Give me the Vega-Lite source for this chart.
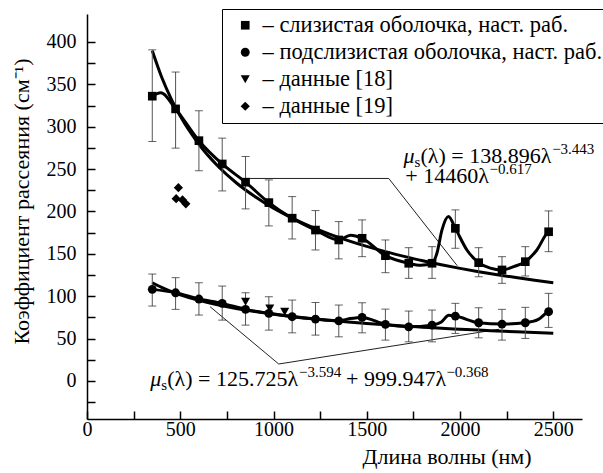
{
  "$schema": "https://vega.github.io/schema/vega-lite/v6.json",
  "width": 495,
  "height": 405,
  "autosize": {"type": "none"},
  "padding": {"left": 87, "top": 14, "right": 21, "bottom": 54},
  "background": "white",
  "config": {
    "font": "Liberation Serif",
    "view": {"stroke": null},
    "axis": {
      "grid": false,
      "domainColor": "black",
      "domainWidth": 1.5,
      "tickColor": "black",
      "tickWidth": 1.5,
      "labelColor": "black",
      "titleColor": "black",
      "labelFont": "Liberation Serif",
      "titleFont": "Liberation Serif",
      "labelFontSize": 20,
      "titleFontSize": 22,
      "titleFontWeight": "normal",
      "labelFlush": false,
      "labelOverlap": false
    },
    "legend": {
      "labelFont": "Liberation Serif",
      "labelFontSize": 22.5,
      "labelColor": "black",
      "labelLimit": 0
    },
    "text": {"font": "Liberation Serif"}
  },
  "datasets": {
    "pts": [
      {"series": "– слизистая оболочка, наст. раб.", "wl": 350, "mu": 336, "lo": 282.5, "hi": 390.7},
      {"series": "– слизистая оболочка, наст. раб.", "wl": 475, "mu": 321, "lo": 274.7, "hi": 364.5},
      {"series": "– слизистая оболочка, наст. раб.", "wl": 600, "mu": 283.5, "lo": 248, "hi": 318.8},
      {"series": "– слизистая оболочка, наст. раб.", "wl": 725, "mu": 256, "lo": 224.2, "hi": 286.5},
      {"series": "– слизистая оболочка, наст. раб.", "wl": 850, "mu": 234.5, "lo": 203, "hi": 264.8},
      {"series": "– слизистая оболочка, наст. раб.", "wl": 975, "mu": 210.4, "lo": 182.9, "hi": 237.2},
      {"series": "– слизистая оболочка, наст. раб.", "wl": 1100, "mu": 192, "lo": 167.5, "hi": 217.5},
      {"series": "– слизистая оболочка, наст. раб.", "wl": 1225, "mu": 178, "lo": 154.5, "hi": 201},
      {"series": "– слизистая оболочка, наст. раб.", "wl": 1350, "mu": 166.3, "lo": 144, "hi": 188},
      {"series": "– слизистая оболочка, наст. раб.", "wl": 1475, "mu": 168.3, "lo": 146.6, "hi": 190},
      {"series": "– слизистая оболочка, наст. раб.", "wl": 1600, "mu": 147.8, "lo": 127.7, "hi": 166.3},
      {"series": "– слизистая оболочка, наст. раб.", "wl": 1725, "mu": 138.8, "lo": 121, "hi": 157.2},
      {"series": "– слизистая оболочка, наст. раб.", "wl": 1850, "mu": 138.8, "lo": 121, "hi": 158.4},
      {"series": "– слизистая оболочка, наст. раб.", "wl": 1975, "mu": 180, "lo": 156.5, "hi": 201.8},
      {"series": "– слизистая оболочка, наст. раб.", "wl": 2100, "mu": 139.5, "lo": 122.9, "hi": 157.2},
      {"series": "– слизистая оболочка, наст. раб.", "wl": 2225, "mu": 130.9, "lo": 115.1, "hi": 146.6},
      {"series": "– слизистая оболочка, наст. раб.", "wl": 2350, "mu": 140.7, "lo": 123.8, "hi": 158.4},
      {"series": "– слизистая оболочка, наст. раб.", "wl": 2475, "mu": 176, "lo": 152.5, "hi": 200.6},
      {"series": "– подслизистая оболочка, наст. раб.", "wl": 350, "mu": 108, "lo": 88.3, "hi": 126.1},
      {"series": "– подслизистая оболочка, наст. раб.", "wl": 475, "mu": 104, "lo": 84.4, "hi": 121.8},
      {"series": "– подслизистая оболочка, наст. раб.", "wl": 600, "mu": 96.6, "lo": 77.7, "hi": 115.8},
      {"series": "– подслизистая оболочка, наст. раб.", "wl": 725, "mu": 91.5, "lo": 71.7, "hi": 111.9},
      {"series": "– подслизистая оболочка, наст. раб.", "wl": 850, "mu": 84.4, "lo": 65.8, "hi": 104},
      {"series": "– подслизистая оболочка, наст. раб.", "wl": 975, "mu": 79.7, "lo": 59.9, "hi": 99.3},
      {"series": "– подслизистая оболочка, наст. раб.", "wl": 1100, "mu": 75.7, "lo": 56.7, "hi": 95.4},
      {"series": "– подслизистая оболочка, наст. раб.", "wl": 1225, "mu": 72.9, "lo": 54, "hi": 92.5},
      {"series": "– подслизистая оболочка, наст. раб.", "wl": 1350, "mu": 70.9, "lo": 52, "hi": 89.5},
      {"series": "– подслизистая оболочка, наст. раб.", "wl": 1475, "mu": 74.9, "lo": 56.7, "hi": 92.2},
      {"series": "– подслизистая оболочка, наст. раб.", "wl": 1600, "mu": 66.7, "lo": 48.1, "hi": 84.7},
      {"series": "– подслизистая оболочка, наст. раб.", "wl": 1725, "mu": 63.8, "lo": 46.1, "hi": 82.4},
      {"series": "– подслизистая оболочка, наст. раб.", "wl": 1850, "mu": 65.8, "lo": 46.1, "hi": 83.6},
      {"series": "– подслизистая оболочка, наст. раб.", "wl": 1975, "mu": 76.5, "lo": 56, "hi": 91.5},
      {"series": "– подслизистая оболочка, наст. раб.", "wl": 2100, "mu": 68.6, "lo": 50.8, "hi": 86.3},
      {"series": "– подслизистая оболочка, наст. раб.", "wl": 2225, "mu": 67, "lo": 48.1, "hi": 84.4},
      {"series": "– подслизистая оболочка, наст. раб.", "wl": 2350, "mu": 68.6, "lo": 50.1, "hi": 86.8},
      {"series": "– подслизистая оболочка, наст. раб.", "wl": 2475, "mu": 81.6, "lo": 63.1, "hi": 103.3},
      {"series": "– данные [18]", "wl": 850, "mu": 93.4},
      {"series": "– данные [18]", "wl": 980, "mu": 85.6},
      {"series": "– данные [18]", "wl": 1060, "mu": 81.6},
      {"series": "– данные [19]", "wl": 490, "mu": 228},
      {"series": "– данные [19]", "wl": 478, "mu": 215},
      {"series": "– данные [19]", "wl": 512, "mu": 213.5},
      {"series": "– данные [19]", "wl": 530, "mu": 209}
    ],
    "meas": [
      {"curve": "m", "wl": 350, "mu": 336}, {"curve": "m", "wl": 395, "mu": 340}, {"curve": "m", "wl": 475, "mu": 321},
      {"curve": "m", "wl": 600, "mu": 283.5}, {"curve": "m", "wl": 725, "mu": 256}, {"curve": "m", "wl": 850, "mu": 234.5},
      {"curve": "m", "wl": 975, "mu": 210.4}, {"curve": "m", "wl": 1100, "mu": 192}, {"curve": "m", "wl": 1225, "mu": 178},
      {"curve": "m", "wl": 1350, "mu": 166.3}, {"curve": "m", "wl": 1413, "mu": 172}, {"curve": "m", "wl": 1475, "mu": 168.3},
      {"curve": "m", "wl": 1600, "mu": 147.8}, {"curve": "m", "wl": 1725, "mu": 138.8}, {"curve": "m", "wl": 1790, "mu": 136.5},
      {"curve": "m", "wl": 1850, "mu": 138.8}, {"curve": "m", "wl": 1876, "mu": 150.6}, {"curve": "m", "wl": 1903, "mu": 178},
      {"curve": "m", "wl": 1938, "mu": 194}, {"curve": "m", "wl": 1975, "mu": 180}, {"curve": "m", "wl": 2037, "mu": 154.5},
      {"curve": "m", "wl": 2100, "mu": 139.5}, {"curve": "m", "wl": 2162, "mu": 133}, {"curve": "m", "wl": 2225, "mu": 130.9},
      {"curve": "m", "wl": 2287, "mu": 134.8}, {"curve": "m", "wl": 2350, "mu": 140.7}, {"curve": "m", "wl": 2412, "mu": 154.5},
      {"curve": "m", "wl": 2475, "mu": 176}, {"curve": "m", "wl": 2490, "mu": 177},
      {"curve": "s", "wl": 350, "mu": 108}, {"curve": "s", "wl": 475, "mu": 104}, {"curve": "s", "wl": 600, "mu": 96.6},
      {"curve": "s", "wl": 725, "mu": 91.5}, {"curve": "s", "wl": 850, "mu": 84.4}, {"curve": "s", "wl": 975, "mu": 79.7},
      {"curve": "s", "wl": 1100, "mu": 75.7}, {"curve": "s", "wl": 1225, "mu": 72.9}, {"curve": "s", "wl": 1350, "mu": 70.9},
      {"curve": "s", "wl": 1410, "mu": 73.5}, {"curve": "s", "wl": 1475, "mu": 74.9}, {"curve": "s", "wl": 1600, "mu": 66.7},
      {"curve": "s", "wl": 1725, "mu": 63.8}, {"curve": "s", "wl": 1850, "mu": 65.8}, {"curve": "s", "wl": 1900, "mu": 69.5},
      {"curve": "s", "wl": 1940, "mu": 77.5}, {"curve": "s", "wl": 1975, "mu": 76.5}, {"curve": "s", "wl": 2100, "mu": 68.6},
      {"curve": "s", "wl": 2225, "mu": 67}, {"curve": "s", "wl": 2350, "mu": 68.6}, {"curve": "s", "wl": 2420, "mu": 72.5},
      {"curve": "s", "wl": 2475, "mu": 81.6}, {"curve": "s", "wl": 2490, "mu": 82}
    ],
    "fit": [
      {"curve": "m", "wl": 350, "mu": 389.5}, {"curve": "m", "wl": 400, "mu": 358.6}, {"curve": "m", "wl": 450, "mu": 333.5},
      {"curve": "m", "wl": 500, "mu": 312.5}, {"curve": "m", "wl": 600, "mu": 279.3}, {"curve": "m", "wl": 700, "mu": 253.9},
      {"curve": "m", "wl": 800, "mu": 233.8}, {"curve": "m", "wl": 900, "mu": 217.5}, {"curve": "m", "wl": 1000, "mu": 203.7},
      {"curve": "m", "wl": 1100, "mu": 192.1}, {"curve": "m", "wl": 1200, "mu": 182.1}, {"curve": "m", "wl": 1300, "mu": 173.3},
      {"curve": "m", "wl": 1400, "mu": 165.6}, {"curve": "m", "wl": 1500, "mu": 158.7}, {"curve": "m", "wl": 1600, "mu": 152.5},
      {"curve": "m", "wl": 1700, "mu": 146.9}, {"curve": "m", "wl": 1800, "mu": 141.7}, {"curve": "m", "wl": 1900, "mu": 137.1},
      {"curve": "m", "wl": 2000, "mu": 132.8}, {"curve": "m", "wl": 2100, "mu": 128.9}, {"curve": "m", "wl": 2200, "mu": 125.3},
      {"curve": "m", "wl": 2300, "mu": 121.9}, {"curve": "m", "wl": 2400, "mu": 118.7}, {"curve": "m", "wl": 2500, "mu": 115.7},
      {"curve": "s", "wl": 350, "mu": 115.8}, {"curve": "s", "wl": 400, "mu": 110.3}, {"curve": "s", "wl": 450, "mu": 105.6},
      {"curve": "s", "wl": 500, "mu": 101.6}, {"curve": "s", "wl": 600, "mu": 95}, {"curve": "s", "wl": 700, "mu": 89.7},
      {"curve": "s", "wl": 800, "mu": 85.4}, {"curve": "s", "wl": 900, "mu": 81.8}, {"curve": "s", "wl": 1000, "mu": 78.7},
      {"curve": "s", "wl": 1100, "mu": 76}, {"curve": "s", "wl": 1200, "mu": 73.6}, {"curve": "s", "wl": 1300, "mu": 71.5},
      {"curve": "s", "wl": 1400, "mu": 69.5}, {"curve": "s", "wl": 1500, "mu": 67.8}, {"curve": "s", "wl": 1600, "mu": 66.2},
      {"curve": "s", "wl": 1700, "mu": 64.7}, {"curve": "s", "wl": 1800, "mu": 63.4}, {"curve": "s", "wl": 1900, "mu": 62.1},
      {"curve": "s", "wl": 2000, "mu": 61}, {"curve": "s", "wl": 2100, "mu": 59.9}, {"curve": "s", "wl": 2200, "mu": 58.9},
      {"curve": "s", "wl": 2300, "mu": 57.9}, {"curve": "s", "wl": 2400, "mu": 57}, {"curve": "s", "wl": 2500, "mu": 56.2}
    ],
    "lead": [
      {"leader": "a", "wl": 852, "mu": 238.9}, {"leader": "a", "wl": 1618, "mu": 238.9}, {"leader": "a", "wl": 1985, "mu": 135.9},
      {"leader": "b", "wl": 660, "mu": 87.5}, {"leader": "b", "wl": 1028, "mu": 19.9}, {"leader": "b", "wl": 2210, "mu": 61}
    ],
    "eq": [
      {"role": "mu", "wl": 1697, "mu": 257.5, "text": "μ"},
      {"role": "sub", "wl": 1756, "mu": 257.5, "text": "s"},
      {"role": "main", "wl": 1788, "mu": 257.5, "text": "(λ) = 138.896λ"},
      {"role": "sup", "wl": 2494, "mu": 257.5, "text": "−3.443"},
      {"role": "main", "wl": 1707, "mu": 233, "text": "+ 14460λ"},
      {"role": "sup", "wl": 2158, "mu": 233, "text": "−0.617"},
      {"role": "mu", "wl": 339, "mu": -6, "text": "μ"},
      {"role": "sub", "wl": 398, "mu": -6, "text": "s"},
      {"role": "main", "wl": 430, "mu": -6, "text": "(λ) = 125.725λ"},
      {"role": "sup", "wl": 1137, "mu": -6, "text": "−3.594"},
      {"role": "main", "wl": 1389, "mu": -6, "text": "+ 999.947λ"},
      {"role": "sup", "wl": 1927, "mu": -6, "text": "−0.368"}
    ]
  },
  "encoding": {
    "x": {
      "field": "wl", "type": "quantitative",
      "scale": {"domain": [0, 2654], "nice": false, "zero": false},
      "axis": {
        "title": "Длина волны (нм)",
        "values": [0, 250, 500, 750, 1000, 1250, 1500, 1750, 2000, 2250, 2500],
        "format": "d",
        "labelExpr": "datum.value % 500 === 0 ? datum.label : ''",
        "tickSize": -8,
        "labelPadding": 8,
        "titleX": 359.5,
        "titleY": 44,
        "titleAlign": "center",
        "titleBaseline": "alphabetic"
      }
    },
    "y": {
      "field": "mu", "type": "quantitative",
      "scale": {"domain": [-45, 433], "nice": false, "zero": false},
      "axis": {
        "title": "Коэффициент рассеяния (см⁻¹)",
        "values": [-25, 0, 25, 50, 75, 100, 125, 150, 175, 200, 225, 250, 275, 300, 325, 350, 375, 400],
        "format": "d",
        "labelExpr": "datum.value >= 0 && datum.value % 50 === 0 ? datum.label : ''",
        "tickSize": -8,
        "labelPadding": 19,
        "titleAngle": -90,
        "titleX": -59,
        "titleY": 187,
        "titleAlign": "center",
        "titleBaseline": "alphabetic"
      }
    }
  },
  "layer": [
    {
      "data": {"name": "lead"},
      "mark": {"type": "line", "color": "#222", "strokeWidth": 1},
      "encoding": {"detail": {"field": "leader"}}
    },
    {
      "data": {"name": "fit"},
      "mark": {"type": "line", "color": "black", "strokeWidth": 3, "interpolate": "monotone"},
      "encoding": {"detail": {"field": "curve"}}
    },
    {
      "data": {"name": "meas"},
      "mark": {"type": "line", "color": "black", "strokeWidth": 3, "interpolate": "monotone"},
      "encoding": {"detail": {"field": "curve"}}
    },
    {
      "data": {"name": "pts"},
      "transform": [{"filter": "isValid(datum.lo)"}],
      "mark": {"type": "rule", "color": "#555", "strokeWidth": 1},
      "encoding": {
        "y": {
          "field": "lo", "type": "quantitative",
          "scale": {"domain": [-45, 433], "nice": false, "zero": false},
          "axis": {
            "title": "Коэффициент рассеяния (см⁻¹)",
            "values": [-25, 0, 25, 50, 75, 100, 125, 150, 175, 200, 225, 250, 275, 300, 325, 350, 375, 400],
            "format": "d",
            "labelExpr": "datum.value >= 0 && datum.value % 50 === 0 ? datum.label : ''",
            "tickSize": -8,
            "labelPadding": 19,
            "titleAngle": -90,
            "titleX": -59,
            "titleY": 187,
            "titleAlign": "center",
            "titleBaseline": "alphabetic"
          }
        },
        "y2": {"field": "hi"}
      }
    },
    {
      "data": {"name": "pts"},
      "transform": [{"filter": "isValid(datum.lo)"}],
      "mark": {"type": "tick", "orient": "horizontal", "color": "#222", "size": 8, "thickness": 1},
      "encoding": {
        "y": {
          "field": "lo", "type": "quantitative",
          "scale": {"domain": [-45, 433], "nice": false, "zero": false},
          "axis": {
            "title": "Коэффициент рассеяния (см⁻¹)",
            "values": [-25, 0, 25, 50, 75, 100, 125, 150, 175, 200, 225, 250, 275, 300, 325, 350, 375, 400],
            "format": "d",
            "labelExpr": "datum.value >= 0 && datum.value % 50 === 0 ? datum.label : ''",
            "tickSize": -8,
            "labelPadding": 19,
            "titleAngle": -90,
            "titleX": -59,
            "titleY": 187,
            "titleAlign": "center",
            "titleBaseline": "alphabetic"
          }
        }
      }
    },
    {
      "data": {"name": "pts"},
      "transform": [{"filter": "isValid(datum.hi)"}],
      "mark": {"type": "tick", "orient": "horizontal", "color": "#222", "size": 8, "thickness": 1},
      "encoding": {
        "y": {
          "field": "hi", "type": "quantitative",
          "scale": {"domain": [-45, 433], "nice": false, "zero": false},
          "axis": {
            "title": "Коэффициент рассеяния (см⁻¹)",
            "values": [-25, 0, 25, 50, 75, 100, 125, 150, 175, 200, 225, 250, 275, 300, 325, 350, 375, 400],
            "format": "d",
            "labelExpr": "datum.value >= 0 && datum.value % 50 === 0 ? datum.label : ''",
            "tickSize": -8,
            "labelPadding": 19,
            "titleAngle": -90,
            "titleX": -59,
            "titleY": 187,
            "titleAlign": "center",
            "titleBaseline": "alphabetic"
          }
        }
      }
    },
    {
      "data": {"name": "pts"},
      "mark": {"type": "point", "filled": true, "color": "black", "opacity": 1},
      "encoding": {
        "shape": {
          "field": "series", "type": "nominal",
          "scale": {
            "domain": ["– слизистая оболочка, наст. раб.", "– подслизистая оболочка, наст. раб.", "– данные [18]", "– данные [19]"],
            "range": ["square", "circle", "triangle-down", "diamond"]
          },
          "legend": {
            "title": null,
            "orient": "none",
            "legendX": 135,
            "legendY": -5,
            "strokeColor": "black",
            "fillColor": "white",
            "padding": 5,
            "symbolOffset": 7,
            "symbolFillColor": "black",
            "symbolStrokeColor": "black",
            "symbolStrokeWidth": 0,
            "labelOffset": 6,
            "rowPadding": 4,
            "labelFontSize": 22.5
          }
        },
        "size": {
          "field": "series", "type": "nominal",
          "scale": {
            "domain": ["– слизистая оболочка, наст. раб.", "– подслизистая оболочка, наст. раб.", "– данные [18]", "– данные [19]"],
            "range": [75, 85, 140, 130]
          },
          "legend": {
            "title": null,
            "orient": "none",
            "legendX": 135,
            "legendY": -5,
            "strokeColor": "black",
            "fillColor": "white",
            "padding": 5,
            "symbolOffset": 7,
            "symbolFillColor": "black",
            "symbolStrokeColor": "black",
            "symbolStrokeWidth": 0,
            "labelOffset": 6,
            "rowPadding": 4,
            "labelFontSize": 22.5
          }
        }
      }
    },
    {
      "data": {"name": "eq"},
      "transform": [{"filter": "datum.role === 'main'"}],
      "mark": {"type": "text", "align": "left", "baseline": "alphabetic", "fontSize": 22, "color": "black"},
      "encoding": {"text": {"field": "text"}}
    },
    {
      "data": {"name": "eq"},
      "transform": [{"filter": "datum.role === 'mu'"}],
      "mark": {"type": "text", "align": "left", "baseline": "alphabetic", "fontSize": 22, "fontStyle": "italic", "color": "black"},
      "encoding": {"text": {"field": "text"}}
    },
    {
      "data": {"name": "eq"},
      "transform": [{"filter": "datum.role === 'sub'"}],
      "mark": {"type": "text", "align": "left", "baseline": "alphabetic", "fontSize": 15, "dy": 4, "color": "black"},
      "encoding": {"text": {"field": "text"}}
    },
    {
      "data": {"name": "eq"},
      "transform": [{"filter": "datum.role === 'sup'"}],
      "mark": {"type": "text", "align": "left", "baseline": "alphabetic", "fontSize": 15, "dy": -9, "color": "black"},
      "encoding": {"text": {"field": "text"}}
    }
  ]
}
